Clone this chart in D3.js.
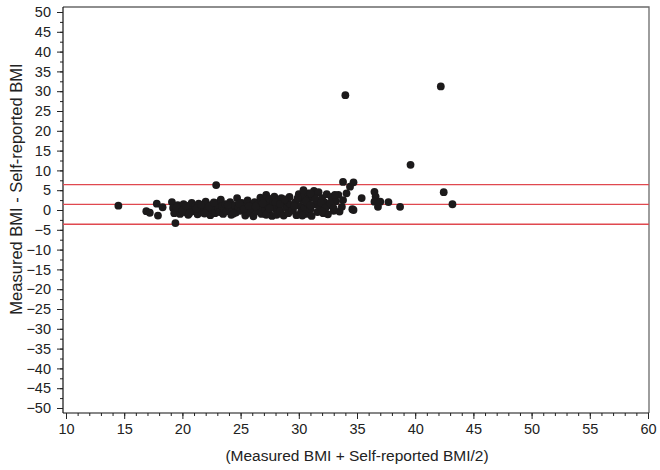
<!DOCTYPE html>
<html>
<head>
<meta charset="utf-8">
<script src="https://cdn.jsdelivr.net/npm/d3@7"></script>
<style>
  body { margin: 0; background: #fff; }
  text { font-family: 'Liberation Sans', Arial, sans-serif; fill: #222; }
</style>
</head>
<body>
<div id="chart"></div>
<script>
// average BMI (x) and difference measured - self-reported (y)
const meanBMI = [
  14.5, 16.9, 17.2, 17.8, 17.9, 18.3, 19.1, 19.4, 19.2, 19.3, 19.6, 19.8, 19.9, 20.1, 20.2, 20.4,
  20.5, 20.7, 20.8, 21.0, 21.1, 21.3, 21.4, 21.5, 21.7, 21.8, 22.0, 22.1, 22.2, 22.4, 22.5, 22.6,
  22.8, 22.9, 23.0, 23.1, 23.2, 23.3, 23.4, 23.5, 23.6, 23.7, 23.8, 24.0, 24.1, 24.2, 24.3, 24.5,
  24.6, 24.7, 24.8, 25.0, 25.1, 25.2, 25.4, 25.5, 25.6, 25.8, 25.9, 26.0, 26.1, 26.2, 26.4, 26.5,
  26.6, 26.7, 26.8, 27.0, 27.1, 27.2, 27.3, 27.4, 27.5, 27.6, 27.7, 27.8, 27.9, 28.0, 28.1, 28.2,
  28.3, 28.4, 28.5, 28.6, 28.7, 28.9, 29.0, 29.1, 29.2, 29.3, 29.5, 29.7, 29.8, 30.0, 30.1, 30.2,
  30.3, 30.4, 30.5, 30.6, 30.7, 30.8, 30.9, 31.0, 31.1, 31.2, 31.3, 31.4, 31.5, 31.6, 31.7, 31.8,
  32.0, 32.1, 32.2, 32.4, 32.5, 32.6, 32.8, 33.0, 33.2, 33.4, 33.5, 33.7, 33.8, 33.8, 34.0, 34.1,
  34.4, 34.6, 34.7, 34.7, 35.4, 36.5, 36.6, 36.5, 36.8, 37.0, 37.7, 38.7, 39.6, 42.2, 42.45, 43.2,
  19.5, 20.0, 20.3, 20.6, 21.2, 21.6, 21.9, 22.3, 22.7, 23.9, 24.4, 24.9, 25.3, 25.7, 26.3, 26.9,
  27.2, 27.5, 28.0, 28.4, 28.8, 29.4, 29.6, 29.9, 30.3, 30.6, 31.0, 31.4, 31.9, 32.3, 32.7, 33.0,
  33.1, 30.4, 31.0, 32.0
]
const diffBMI = [
  1.1, -0.3, -0.7, 1.6, -1.4, 0.7, 2.0, -3.3, 0.5, -0.8, 1.2, -1.0, 0.2, 1.5, -0.5, 0.8,
  -1.2, 0.3, 1.8, -0.3, 0.9, -1.1, 1.6, 0.2, -0.6, 1.0, 2.1, -0.2, 0.6, -1.3, 1.3, 0.0,
  -0.8, 6.3, 1.7, 0.4, -0.5, 2.6, 1.0, -1.0, 0.2, 1.5, -0.3, 0.8, 2.0, -1.2, 0.3, 1.2,
  -0.6, 3.0, 0.5, -0.2, 1.8, 0.9, -1.4, 0.1, 2.4, -0.7, 1.1, 0.4, -1.6, 2.0, -0.4, 1.4,
  0.6, 3.1, -1.0, 2.3, 0.0, 3.8, 1.2, -0.6, 2.8, 0.7, -1.5, 1.9, 3.4, 0.3, -1.2, 2.5,
  1.0, -0.3, 3.0, 1.6, -1.4, 0.5, 2.2, -0.8, 3.3, 1.3, 0.0, 2.0, -1.3, 4.0, 1.0, -0.4,
  2.6, 3.7, 0.6, -1.0, 1.8, 4.2, 2.9, 0.2, -1.5, 3.4, 4.8, 1.4, 2.4, -0.5, 4.5, 0.9,
  3.0, -0.8, 2.0, 4.0, -1.1, 1.2, 3.3, -0.2, 2.2, 3.8, -0.4, 0.8, 7.1, 2.5, 29.0, 4.2,
  5.9, 0.2, 7.0, 0.0, 3.0, 4.6, 3.4, 2.1, 0.8, 2.1, 2.0, 0.8, 11.4, 31.2, 4.5, 1.45,
  0.6, -0.1, 1.1, -0.8, 0.4, 1.3, -0.9, 0.9, 1.9, 1.3, -0.9, 1.6, 0.3, 1.0, 0.9, 1.7,
  -1.2, 0.4, 2.0, 1.5, 2.7, -0.2, 1.0, 3.0, -1.4, 2.2, 1.2, 3.0, 1.8, 0.5, 1.7, 0.4,
  3.8, 5.0, 4.2, -0.4
]
// mean difference and limits of agreement
const limits = [6.4, 1.4, -3.6]

const xTicks = [10, 15, 20, 25, 30, 35, 40, 45, 50, 55, 60]
const yTicks = d3.range(-50, 51, 5)

const width = 660
const height = 470
const box = { left: 63, top: 7, right: 649, bottom: 413 }

const svg = d3.select('#chart')
  .append('svg')
  .attr('width', width)
  .attr('height', height)

const x = d3.scaleLinear().domain([10, 60]).range([66, 648])
const y = d3.scaleLinear().domain([-50, 50]).range([408, 12])

// frame (top and right)
svg.append('path')
  .attr('d', `M${box.left},${box.top}H${box.right}V${box.bottom}`)
  .attr('fill', 'none')
  .attr('stroke', '#6a6a6a')
  .attr('stroke-width', 1.3)

// minor ticks
svg.append('g')
  .attr('transform', `translate(0,${box.bottom})`)
  .call(d3.axisBottom(x).tickValues(d3.range(10, 61, 1)).tickSize(3).tickFormat(''))
  .call(g => g.select('.domain').remove())

svg.append('g')
  .attr('transform', `translate(${box.left},0)`)
  .call(d3.axisLeft(y).tickValues(d3.range(-50, 51, 2.5)).tickSize(3).tickFormat(''))
  .call(g => g.select('.domain').remove())

const xAxis = svg.append('g')
  .attr('transform', `translate(0,${box.bottom})`)
  .call(d3.axisBottom(x).tickValues(xTicks).tickSize(6).tickPadding(5).tickSizeOuter(0))
xAxis.select('.domain').attr('d', `M${box.left},0H${box.right}`)

const yAxis = svg.append('g')
  .attr('transform', `translate(${box.left},0)`)
  .call(d3.axisLeft(y).tickValues(yTicks).tickSize(6).tickPadding(6).tickSizeOuter(0))
yAxis.select('.domain').attr('d', `M0,${box.top}V${box.bottom}`)

svg.selectAll('.tick line').attr('stroke', '#222')
svg.selectAll('.domain').attr('stroke', '#111').attr('stroke-width', 1.2)
svg.selectAll('.tick text')
  .style('font-family', "'Liberation Sans', Arial, sans-serif")
  .style('font-size', '14.5px')
  .attr('fill', '#222')

// limits lines
svg.append('g')
  .selectAll('line')
  .data(limits)
  .join('line')
  .attr('x1', box.left)
  .attr('x2', box.right)
  .attr('y1', d => y(d))
  .attr('y2', d => y(d))
  .attr('stroke', '#e0484f')
  .attr('stroke-width', 1.3)

// points
svg.append('g')
  .selectAll('circle')
  .data(meanBMI)
  .join('circle')
  .attr('cx', d => x(d))
  .attr('cy', (d, i) => y(diffBMI[i]))
  .attr('r', 3.9)
  .attr('fill', '#1c1a1b')

// axis titles
svg.append('text')
  .attr('x', 357)
  .attr('y', 461)
  .attr('text-anchor', 'middle')
  .style('font-size', '15.5px')
  .text('(Measured BMI + Self-reported BMI/2)')

svg.append('text')
  .attr('transform', `translate(22,189) rotate(-90)`)
  .attr('text-anchor', 'middle')
  .style('font-size', '16.5px')
  .text('Measured BMI - Self-reported BMI')
</script>
</body>
</html>
